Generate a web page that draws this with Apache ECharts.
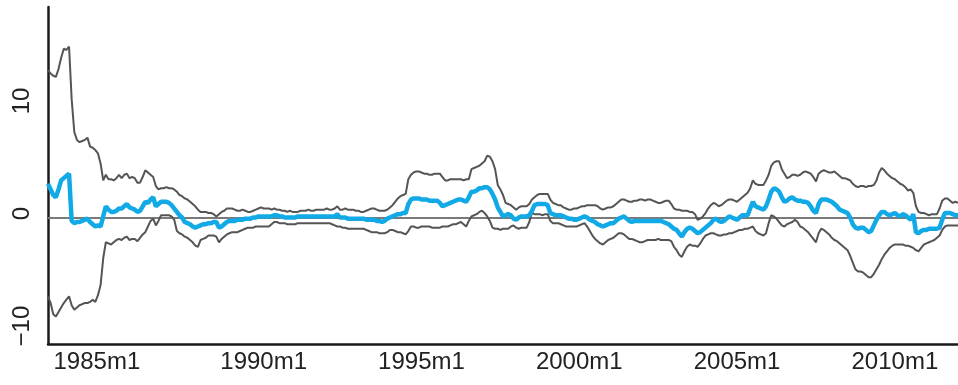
<!DOCTYPE html>
<html><head><meta charset="utf-8">
<script src="https://cdn.jsdelivr.net/npm/echarts@6/dist/echarts.min.js"></script>
<style>html,body{margin:0;padding:0;background:#fff}#c{width:958px;height:385px}</style>
</head><body><div id="c"></div>
<script>
// Monthly observations, 1983m3 .. 2012m1
var startYear = 1983, startMonth = 3, nMonths = 347;
var tickLabels = ['1985m1','1990m1','1995m1','2000m1','2005m1','2010m1'];
var yTickValues = [-10, 0, 10];

var upper = [
13.1,12.8,12.6,12.5,13.2,14.2,15.0,14.9,15.2,10.5,
7.6,6.9,6.7,6.8,6.9,7.1,6.3,6.2,6.0,5.7,
4.8,3.3,3.8,3.4,3.4,3.3,3.5,3.8,3.5,3.8,
3.9,3.5,3.6,3.5,3.1,3.1,3.6,4.2,4.0,3.8,
3.6,2.8,2.5,2.6,2.6,2.7,2.6,2.6,2.5,2.3,
2.0,1.9,1.7,1.6,1.4,1.2,1.0,0.7,0.5,0.5,
0.5,0.4,0.4,0.3,0.1,0.3,0.5,0.6,0.8,0.8,
0.8,0.7,0.6,0.6,0.7,0.6,0.5,0.5,0.6,0.7,
0.8,0.9,0.8,0.8,0.8,0.7,0.8,0.7,0.7,0.6,
0.6,0.5,0.6,0.5,0.5,0.5,0.6,0.6,0.6,0.7,
0.6,0.6,0.7,0.7,0.7,0.7,0.8,0.7,0.7,0.8,
1.0,0.7,0.7,0.8,0.7,0.7,0.7,0.6,0.6,0.5,
0.5,0.6,0.7,0.8,0.8,0.7,0.6,0.6,0.6,0.7,
0.9,1.1,1.4,1.7,1.9,2.0,2.1,3.4,3.8,4.0,
4.1,4.1,4.0,3.9,3.9,3.8,3.8,3.9,3.9,3.9,
3.6,3.3,3.3,3.4,3.4,3.4,3.4,3.4,3.3,3.4,
3.4,4.3,4.4,4.5,4.6,4.8,5.0,5.5,5.4,5.0,
4.3,2.9,2.5,2.0,1.3,1.2,1.1,0.9,0.7,0.9,
1.0,1.0,1.0,1.2,1.6,1.8,2.0,2.1,2.1,2.1,
2.1,1.6,1.3,1.2,1.1,1.1,0.9,0.8,0.7,0.7,
0.8,0.8,0.9,1.0,1.0,1.1,1.1,1.1,1.1,1.0,
0.8,0.7,0.8,0.9,0.9,1.0,1.2,1.4,1.6,1.6,
1.5,1.4,1.4,1.5,1.5,1.6,1.6,1.5,1.6,1.6,
1.5,1.4,1.3,1.3,1.4,1.5,1.5,1.2,0.8,0.7,
0.7,0.6,0.6,0.6,0.5,0.5,0.3,-0.2,-0.1,0.1,
0.4,0.8,1.1,1.3,1.2,1.0,1.1,1.3,1.5,1.6,
1.6,1.5,1.4,1.6,1.8,2.0,2.2,2.6,3.3,3.0,
2.9,2.9,2.9,3.3,3.8,4.6,4.9,5.0,5.0,4.3,
3.9,3.5,3.6,3.8,3.8,3.7,3.8,4.0,4.1,4.0,
3.9,3.6,3.2,3.9,4.1,4.2,4.1,4.0,4.0,4.1,
3.9,3.7,3.5,3.5,3.4,3.3,3.0,2.8,2.7,2.8,
2.8,2.7,2.8,2.8,2.9,3.3,4.0,4.4,4.2,3.9,
3.7,3.5,3.4,3.2,3.0,2.9,2.7,2.4,2.5,2.2,
1.0,0.5,0.4,0.4,0.3,0.2,0.3,0.3,0.3,0.8,
1.5,1.7,1.7,1.5,1.3,1.4,1.3];

var estimate = [
3.0,2.5,2.0,1.8,2.5,3.3,3.5,3.7,3.9,-0.3,
-0.5,-0.4,-0.4,-0.3,-0.2,-0.1,-0.4,-0.6,-0.8,-0.7,
-0.8,0.1,1.0,0.7,0.5,0.5,0.6,0.8,0.8,1.0,
1.2,0.9,0.8,0.7,0.5,0.6,1.0,1.4,1.3,1.6,
1.8,1.0,1.2,1.4,1.4,1.4,1.3,1.1,0.8,0.5,
0.2,0.0,-0.4,-0.5,-0.6,-0.8,-0.9,-0.8,-0.7,-0.6,
-0.6,-0.5,-0.5,-0.4,-0.4,-0.9,-0.8,-0.6,-0.4,-0.3,
-0.3,-0.3,-0.2,-0.2,-0.2,-0.1,-0.1,-0.1,0.0,0.0,
0.1,0.1,0.1,0.1,0.1,0.1,0.2,0.2,0.1,0.1,
0.0,0.0,0.0,0.0,0.0,0.1,0.1,0.1,0.1,0.1,
0.1,0.1,0.1,0.1,0.1,0.1,0.1,0.1,0.1,0.1,
0.3,0.0,0.0,0.0,-0.1,-0.1,-0.1,-0.1,-0.1,-0.1,
-0.1,-0.2,-0.2,-0.2,-0.2,-0.3,-0.3,-0.4,-0.3,-0.1,
0.0,0.1,0.2,0.3,0.3,0.4,0.4,1.2,1.6,1.7,
1.7,1.7,1.6,1.6,1.6,1.5,1.5,1.5,1.5,1.3,
1.0,1.1,1.2,1.3,1.4,1.5,1.6,1.6,1.5,1.4,
1.8,2.3,2.3,2.4,2.6,2.6,2.7,2.7,2.5,2.1,
1.6,0.9,0.5,0.1,0.2,0.3,0.2,-0.1,-0.2,0.0,
0.1,0.1,0.1,0.2,0.6,1.1,1.2,1.2,1.2,1.2,
1.1,0.4,0.3,0.2,0.2,0.2,0.1,0.0,-0.1,-0.1,
-0.2,-0.2,-0.1,0.0,0.1,0.0,-0.2,-0.3,-0.4,-0.6,
-0.7,-0.8,-0.7,-0.6,-0.5,-0.5,-0.3,-0.1,0.0,0.1,
-0.1,-0.3,-0.4,-0.3,-0.3,-0.3,-0.3,-0.3,-0.3,-0.3,
-0.3,-0.3,-0.3,-0.3,-0.4,-0.5,-0.6,-0.8,-1.0,-1.1,
-1.4,-1.7,-1.3,-1.0,-0.9,-1.0,-1.2,-1.4,-1.3,-1.1,
-0.9,-0.7,-0.5,-0.2,-0.1,-0.3,-0.4,-0.3,-0.1,0.1,
0.0,-0.1,-0.2,0.0,0.2,0.2,0.2,0.8,1.4,1.0,
0.9,0.8,0.7,1.0,1.6,2.3,2.6,2.5,2.3,1.8,
1.4,1.5,1.7,1.8,1.6,1.5,1.5,1.4,1.4,1.3,
1.0,0.6,0.4,1.2,1.6,1.6,1.6,1.5,1.4,1.2,
1.0,0.7,0.6,0.5,0.4,0.0,-0.6,-0.9,-1.0,-0.9,
-0.9,-1.1,-1.3,-1.2,-0.7,-0.2,0.2,0.5,0.5,0.3,
0.2,0.3,0.4,0.2,0.1,0.3,0.2,0.0,-0.2,0.3,
-1.3,-1.4,-1.2,-1.1,-1.1,-1.0,-1.0,-1.0,-1.0,-0.9,
-0.2,0.4,0.4,0.4,0.3,0.2,0.2];

var lower = [
-7.0,-7.6,-8.6,-8.8,-8.4,-8.0,-7.6,-7.3,-7.0,-7.8,
-8.2,-8.0,-7.8,-7.7,-7.6,-7.6,-7.5,-7.3,-7.5,-6.9,
-6.0,-3.6,-2.2,-2.3,-2.4,-2.2,-2.0,-1.9,-2.0,-1.8,
-1.7,-2.0,-1.9,-1.9,-2.1,-1.8,-1.5,-1.3,-0.8,-0.3,
-0.1,-0.7,-0.3,0.2,0.2,0.2,0.2,0.1,-0.2,-1.2,
-1.4,-1.5,-1.7,-1.8,-2.0,-2.2,-2.5,-2.6,-2.0,-1.9,
-1.8,-1.6,-1.6,-1.6,-1.7,-2.2,-1.9,-1.7,-1.5,-1.4,
-1.3,-1.3,-1.3,-1.2,-1.1,-1.0,-0.9,-0.9,-0.9,-0.8,
-0.8,-0.8,-0.8,-0.8,-0.8,-0.6,-0.4,-0.4,-0.5,-0.5,
-0.5,-0.6,-0.6,-0.6,-0.6,-0.5,-0.5,-0.5,-0.5,-0.5,
-0.5,-0.5,-0.5,-0.5,-0.5,-0.5,-0.5,-0.5,-0.6,-0.7,
-0.8,-0.8,-0.9,-0.9,-1.0,-1.0,-1.0,-1.0,-1.0,-1.0,
-1.0,-1.1,-1.2,-1.3,-1.3,-1.3,-1.4,-1.4,-1.4,-1.3,
-1.1,-1.1,-1.2,-1.3,-1.3,-1.4,-1.5,-1.2,-0.8,-0.8,
-0.9,-0.9,-0.8,-0.8,-0.8,-0.8,-0.9,-0.9,-0.9,-0.9,
-0.8,-0.8,-0.8,-0.7,-0.6,-0.6,-0.5,-0.4,-0.6,-0.8,
-0.3,0.1,0.2,0.3,0.5,0.6,0.4,0.1,-0.3,-0.9,
-1.0,-1.0,-1.1,-1.0,-1.0,-1.0,-0.8,-0.7,-0.9,-1.0,
-0.9,-0.9,-0.9,-0.4,0.4,0.3,0.3,0.3,0.2,0.3,
0.3,-0.3,-0.5,-0.5,-0.5,-0.6,-0.7,-0.8,-0.8,-0.8,
-0.8,-0.8,-0.7,-0.6,-0.5,-0.8,-1.2,-1.6,-1.9,-2.1,
-2.3,-2.4,-2.2,-2.0,-1.9,-1.8,-1.6,-1.4,-1.4,-1.5,
-1.7,-1.9,-1.9,-2.0,-2.1,-2.2,-2.2,-2.1,-2.0,-2.0,
-2.0,-2.0,-1.9,-2.0,-2.0,-2.0,-2.0,-2.1,-2.6,-2.9,
-3.3,-3.5,-3.0,-2.6,-2.4,-2.5,-2.5,-2.6,-2.3,-1.9,
-1.6,-1.5,-1.4,-1.4,-1.5,-1.6,-1.6,-1.5,-1.5,-1.4,
-1.4,-1.3,-1.2,-1.1,-1.1,-1.0,-1.0,-0.9,-0.8,-1.2,
-1.4,-1.5,-1.6,-1.4,-0.5,0.2,0.1,-0.1,-0.4,-0.7,
-0.8,-0.6,-0.5,-0.4,-0.2,-0.4,-0.8,-0.9,-1.1,-1.3,
-1.6,-1.9,-2.2,-1.4,-1.0,-1.1,-1.3,-1.5,-1.8,-2.0,
-2.1,-2.3,-2.5,-2.7,-2.9,-3.4,-4.0,-4.6,-4.8,-4.8,
-4.9,-5.1,-5.3,-5.3,-5.0,-4.6,-4.2,-3.7,-3.3,-3.0,
-2.7,-2.5,-2.4,-2.4,-2.4,-2.4,-2.5,-2.5,-2.6,-2.7,
-2.9,-3.0,-2.7,-2.4,-2.3,-2.2,-2.1,-2.0,-1.8,-1.6,
-1.1,-0.8,-0.7,-0.7,-0.7,-0.7,-0.7];

var months = [];
for (var i = 0; i < nMonths; i++) {
  var t = (startMonth - 1) + i;
  months.push((startYear + Math.floor(t / 12)) + 'm' + (t % 12 + 1));
}

var FONT = '"Liberation Sans Narrow", "Liberation Sans", sans-serif';
var chart = echarts.init(document.getElementById('c'), null, {renderer: 'canvas'});
chart.setOption({
  animation: false,
  backgroundColor: '#ffffff',
  grid: {left: 48, right: 0, top: 7, bottom: 41, containLabel: false},
  xAxis: {
    type: 'category', data: months, boundaryGap: false,
    axisLine: {show: true, onZero: false, lineStyle: {color: '#1a1a1a', width: 2.5}},
    axisTick: {show: false},
    splitLine: {show: false},
    axisLabel: {
      interval: function (idx, val) { return tickLabels.indexOf(val) >= 0; },
      formatter: function (val) { return val === '1985m1' ? '{s|' + val + '}' : val; },
      rich: {s: {padding: [0, 18, 0, 0], fontFamily: FONT, fontSize: 24, color: '#222'}},
      margin: 6, color: '#222', fontSize: 24, fontFamily: FONT
    }
  },
  yAxis: {
    type: 'value', min: -11.24, max: 18.71,
    axisLine: {show: true, lineStyle: {color: '#1a1a1a', width: 2.5}},
    axisTick: {show: false},
    splitLine: {show: false},
    axisLabel: {
      customValues: yTickValues, rotate: 90, margin: 14,
      color: '#222', fontSize: 24, fontFamily: FONT,
      formatter: function (v) { return '{t|' + String(v).replace('-', '\u2212') + '}'; },
      rich: {t: {padding: [0, 0, 0, 8], fontFamily: FONT, fontSize: 24, color: '#222'}}
    }
  },
  series: [
    {name: 'lower', type: 'line', data: lower, showSymbol: false, symbol: 'none',
     lineStyle: {color: '#555555', width: 2}, z: 2,
     markLine: {silent: true, symbol: 'none', label: {show: false},
       lineStyle: {color: '#7a7a7a', width: 2, type: 'solid'}, data: [{yAxis: 0}], z: 1}},
    {name: 'upper', type: 'line', data: upper, showSymbol: false, symbol: 'none',
     lineStyle: {color: '#555555', width: 2}, z: 2},
    {name: 'estimate', type: 'line', data: estimate, showSymbol: false, symbol: 'none',
     lineStyle: {color: '#12aae6', width: 4.5}, z: 3}
  ]
});
</script></body></html>
